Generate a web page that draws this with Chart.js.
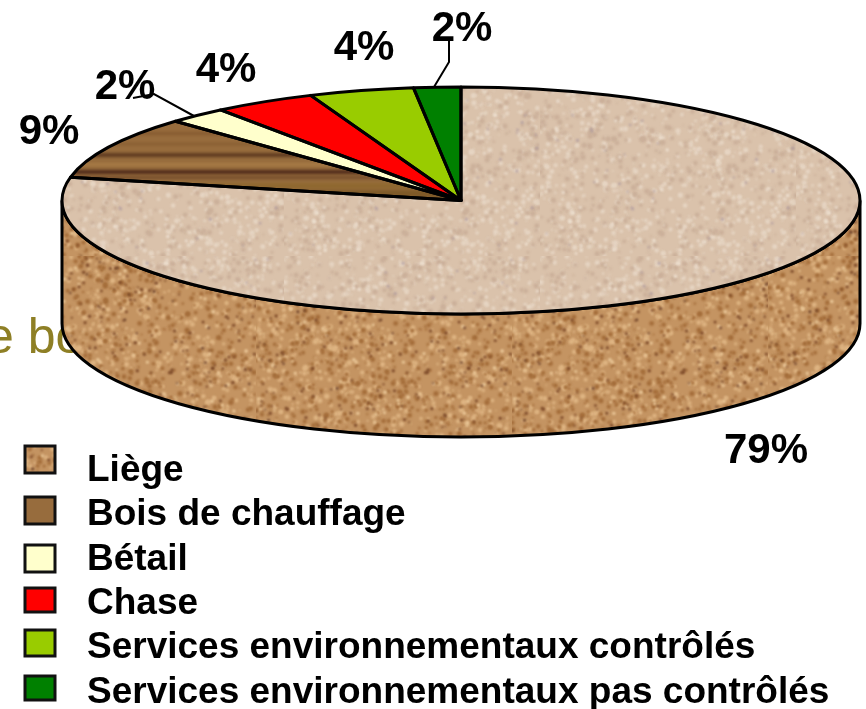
<!DOCTYPE html>
<html>
<head>
    <meta charset="utf-8">
    <title>Liège</title>
    <style>
        html, body { margin: 0; padding: 0; background: #fff; }
        canvas { display: block; }
    </style>
    <script src="https://cdn.jsdelivr.net/npm/chart.js"></script>
</head>
<body>
    <canvas id="myChart" width="866" height="709"></canvas>
    <script>
        var categories = ['Liège', 'Bois de chauffage', 'Bétail', 'Chase', 'Services environnementaux contrôlés', 'Services environnementaux pas contrôlés'];
        // slice sizes as measured on the drawn pie, printed labels as written on it
        var shares = [78.3, 9, 2.4, 4.15, 4.25, 1.9];
        var shareLabels = ['79%', '9%', '2%', '4%', '4%', '2%'];

        // layout
        var pieX = 461, pieY = 200.5, pieRx = 399, pieRy = 113.5, pieDepth = 123;
        var labelX = [766, 49, 125, 226, 364, 462];
        var labelY = [451, 132, 87, 70, 48, 29];
        var swatchTop = [446, 497, 545, 588, 630, 676];
        var swatchHeight = [27, 27, 27, 24, 26, 24];

        // small generator so the textures come out the same every time
        var seed = 12345;
        function noise() {
            seed = (seed * 1103515245 + 12345) % 2147483648;
            return seed / 2147483648;
        }

        function corkTexture(base, spots) {
            var c = document.createElement('canvas');
            c.width = 256;
            c.height = 256;
            var g = c.getContext('2d');
            g.fillStyle = base;
            g.fillRect(0, 0, 256, 256);
            g.filter = 'blur(1px)';
            spots.forEach(function (s) {
                g.fillStyle = s[0];
                for (var i = 0; i < s[1]; i++) {
                    g.beginPath();
                    g.arc(noise() * 256, noise() * 256, 0.8 + noise() * s[2], 0, Math.PI * 2);
                    g.fill();
                }
            });
            return c;
        }

        function woodTexture() {
            var c = document.createElement('canvas');
            c.width = 300;
            c.height = 220;
            var g = c.getContext('2d');
            g.fillStyle = '#976c3d';
            g.fillRect(0, 0, 300, 220);
            // darker grain rows, at the heights they have in the picture
            var bands = [[132, 3, '#86592f'], [143, 2, '#855a30'], [153, 4, '#5f3a20'], [163, 3, '#a87b45'],
                         [170, 4, '#4f2a1a'], [176, 3, '#754c2a'], [183, 6, '#8f6830'], [190, 8, '#7f5a28']];
            g.filter = 'blur(1.4px)';
            bands.forEach(function (b) {
                g.fillStyle = b[2];
                g.fillRect(-5, b[0], 310, b[1]);
            });
            g.filter = 'none';
            return c;
        }

        var ctxTmp = document.createElement('canvas').getContext('2d');
        var corkTop = ctxTmp.createPattern(corkTexture('#dac2ab', [['#e6d5c3', 1100, 1.8], ['#cbb09a', 800, 2], ['#efe2d3', 120, 1], ['#a8959e', 60, 0.5]]), 'repeat');
        var corkSide = ctxTmp.createPattern(corkTexture('#c49462', [['#deb482', 1000, 2], ['#a46d3a', 1000, 1.8], ['#efce9f', 220, 1], ['#703c1e', 320, 0.8], ['#4d2416', 70, 0.5]]), 'repeat');
        var wood = ctxTmp.createPattern(woodTexture(), 'repeat');
        var woodSwatch = ctxTmp.createPattern(woodTexture(), 'repeat');

        var sliceColors = [corkTop, wood, '#ffffcc', '#ff0000', '#99cc00', '#008000'];
        var swatchColors = [corkSide, woodSwatch, '#ffffcc', '#ff0000', '#99cc00', '#008000'];

        var tiltPlugin = {
            id: 'tilt',
            afterLayout: function (chart) {
                // legend sits bottom left over the chart area
                chart.legend.left = 1.2;
                chart.legend.top = 445;
                chart.legend.right = chart.width;
                chart.legend.bottom = chart.height + 20;
            },
            beforeDatasetsDraw: function (chart) {
                var ctx = chart.ctx;
                var arc = chart.getDatasetMeta(0).data[0];
                var sy = pieRy / arc.outerRadius;

                // text of the slide behind the pie
                ctx.save();
                ctx.fillStyle = '#8e7f25';
                ctx.font = '50px "Liberation Sans"';
                ctx.textBaseline = 'alphabetic';
                ctx.fillText('e bo', -14, 353);
                ctx.restore();

                // side wall
                ctx.save();
                ctx.beginPath();
                ctx.moveTo(pieX - pieRx, pieY);
                ctx.lineTo(pieX - pieRx, pieY + pieDepth);
                ctx.ellipse(pieX, pieY + pieDepth, pieRx, pieRy, 0, Math.PI, 0, true);
                ctx.lineTo(pieX + pieRx, pieY);
                ctx.ellipse(pieX, pieY, pieRx, pieRy, 0, 0, Math.PI, false);
                ctx.closePath();
                ctx.fillStyle = corkSide;
                ctx.fill();
                ctx.lineWidth = 3;
                ctx.strokeStyle = '#000';
                ctx.stroke();
                ctx.restore();

                // keep textures in screen space while the pie is squashed
                var m = new DOMMatrix().translate(0, arc.y - pieY / sy).scale(1, 1 / sy);
                corkTop.setTransform(m);
                wood.setTransform(m);

                ctx.save();
                ctx.translate(pieX, pieY);
                ctx.scale(1, sy);
                ctx.translate(-arc.x, -arc.y);
            },
            afterDatasetsDraw: function (chart) {
                var ctx = chart.ctx;
                var arcs = chart.getDatasetMeta(0).data;

                // outlines: path built squashed, stroked with the normal pen
                arcs.forEach(function (arc) {
                    ctx.beginPath();
                    ctx.moveTo(arc.x, arc.y);
                    ctx.arc(arc.x, arc.y, arc.outerRadius, arc.startAngle, arc.endAngle);
                    ctx.closePath();
                    ctx.save();
                    ctx.setTransform(1, 0, 0, 1, 0, 0);
                    ctx.lineWidth = 3;
                    ctx.lineJoin = 'round';
                    ctx.strokeStyle = '#000';
                    ctx.stroke();
                    ctx.restore();
                });
                ctx.restore();

                // leader lines
                ctx.save();
                ctx.lineWidth = 2;
                ctx.strokeStyle = '#000';
                ctx.beginPath();
                ctx.moveTo(449, 40);
                ctx.lineTo(449, 62);
                ctx.lineTo(434, 87);
                ctx.moveTo(133, 98);
                ctx.lineTo(154, 94);
                ctx.lineTo(194, 116);
                ctx.stroke();
                ctx.restore();

                // percentage labels
                ctx.save();
                ctx.fillStyle = '#000';
                ctx.font = 'bold 42px "Liberation Sans"';
                ctx.textAlign = 'center';
                ctx.textBaseline = 'middle';
                shareLabels.forEach(function (text, i) {
                    ctx.fillText(text, labelX[i], labelY[i]);
                });
                ctx.restore();

                // legend swatches
                ctx.save();
                ctx.lineWidth = 3;
                ctx.strokeStyle = '#111';
                swatchColors.forEach(function (color, i) {
                    ctx.fillStyle = color;
                    ctx.fillRect(25, swatchTop[i], 30, swatchHeight[i]);
                    ctx.strokeRect(25, swatchTop[i], 30, swatchHeight[i]);
                });
                ctx.restore();
            }
        };

        new Chart(document.getElementById('myChart'), {
            type: 'pie',
            data: {
                labels: categories,
                datasets: [{
                    data: shares,
                    backgroundColor: sliceColors,
                    borderWidth: 0,
                    radius: pieRx,
                    clip: false
                }]
            },
            options: {
                responsive: false,
                animation: false,
                events: [],
                layout: { padding: 0 },
                plugins: {
                    tooltip: { enabled: false },
                    legend: {
                        position: 'chartArea',
                        align: 'start',
                        labels: {
                            boxWidth: 60,
                            padding: 7.3,
                            color: '#000',
                            font: { family: '"Liberation Sans"', size: 37, weight: 'bold' },
                            generateLabels: function (chart) {
                                var items = Chart.overrides.pie.plugins.legend.labels.generateLabels(chart);
                                items.forEach(function (item) {
                                    item.fillStyle = 'transparent';
                                    item.strokeStyle = 'transparent';
                                    item.lineWidth = 0;
                                });
                                return items;
                            }
                        }
                    }
                }
            },
            plugins: [tiltPlugin]
        });
    </script>
</body>
</html>
